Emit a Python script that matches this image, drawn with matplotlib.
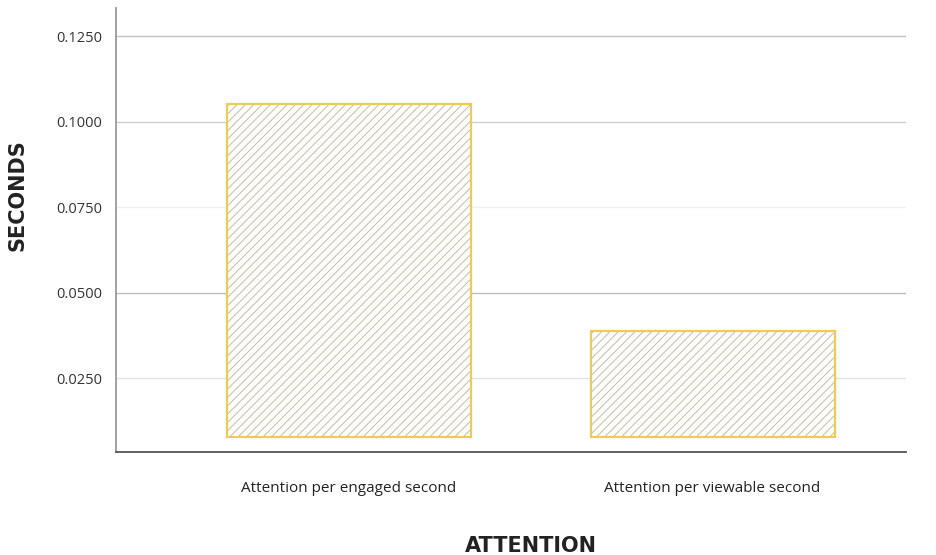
import matplotlib
matplotlib.use("Agg")
import matplotlib.pyplot as plt

# data
categories = ["Attention per engaged second", "Attention per viewable second"]
bar_tops = [0.1051, 0.0387]
bar_base = 0.0077
y_ticks = [0.025, 0.050, 0.075, 0.100, 0.125]

plt.rcParams["font.family"] = ["Open Sans", "DejaVu Sans"]
plt.rcParams["hatch.linewidth"] = 0.8

fig = plt.figure(figsize=(9.36, 5.55), dpi=100)
ax = fig.add_axes([116 / 936, 1 - 452 / 555, 790 / 936, 444 / 555])

xs = list(range(len(categories)))
heights = [t - bar_base for t in bar_tops]

# hatch fill + gold outline drawn separately
ax.bar(xs, heights, bottom=bar_base, width=0.671, color="white",
       edgecolor="#cbc2ad", hatch="////", linewidth=0, zorder=3)
ax.bar(xs, heights, bottom=bar_base, width=0.671, fill=False,
       edgecolor="#efcb55", linewidth=1.6, zorder=4)

ax.set_xlim(-0.641, 1.532)
ax.set_ylim(0.00336, 0.1332)

grid_colors = {0.025: "#e2e2e2", 0.050: "#bdbdbd", 0.075: "#f0f0f0",
               0.100: "#cfcfcf", 0.125: "#c4c4c4"}
for v in y_ticks:
    ax.axhline(v, color=grid_colors[v], linewidth=1.0, zorder=1)

ax.set_yticks(y_ticks)
ax.set_yticklabels([f"{v:.4f}" for v in y_ticks], fontsize=10.5, color="#333333")
ax.set_xticks(xs)
ax.set_xticklabels(categories, fontsize=11, color="#222222")
ax.tick_params(axis="both", length=0)
ax.tick_params(axis="y", pad=10)
ax.tick_params(axis="x", pad=21)

for s in ("top", "right"):
    ax.spines[s].set_visible(False)
ax.spines["left"].set_color("#9a9a9a")
ax.spines["left"].set_linewidth(1.3)
ax.spines["bottom"].set_color("#555555")
ax.spines["bottom"].set_linewidth(1.3)

fig.text(18 / 936, 1 - 195 / 555, "SECONDS", rotation=90, ha="center",
         va="center", fontsize=15, fontweight="bold", color="#222222",
         family="DejaVu Sans")
fig.text(531 / 936, 1 - 546 / 555, "ATTENTION", ha="center", va="center",
         fontsize=15, fontweight="bold", color="#222222", family="DejaVu Sans")

fig.savefig("out.png", dpi=100)
